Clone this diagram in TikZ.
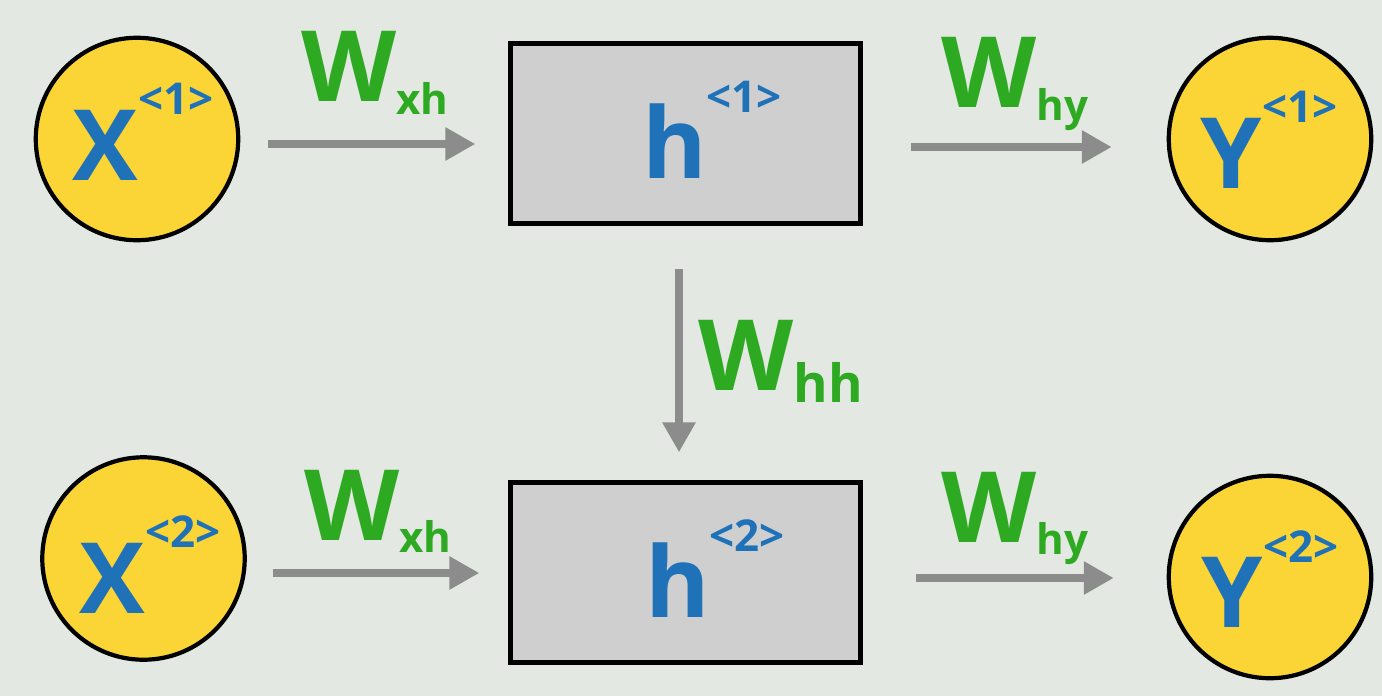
\documentclass[tikz,border=0pt]{standalone}
\usepackage{fontspec}
\setmainfont{Open Sans}
\usepackage{tikz}
\usetikzlibrary{arrows.meta, positioning, calc}

\definecolor{bgcol}{HTML}{E3E8E2}
\definecolor{unityellow}{HTML}{FBD536}
\definecolor{symblue}{HTML}{1F72B8}
\definecolor{wgreen}{HTML}{2EAA22}
\definecolor{arrowgray}{HTML}{8C8C8C}
\definecolor{boxgray}{HTML}{CFCFCF}

\newcommand{\symb}[2]{#1\raisebox{37pt}{\fontsize{25}{25}\selectfont<#2>}}
\newcommand{\wlab}[2][24]{W\raisebox{-7pt}{\fontsize{#1}{#1}\selectfont #2}}

\tikzset{
  unit/.style={circle, draw=black, line width=2.4pt, fill=unityellow, minimum size=4.05cm, inner sep=0pt},
  hidden/.style={rectangle, draw=black, line width=2.6pt, fill=boxgray, minimum width=7cm, minimum height=3.6cm, inner sep=0pt},
  symtext/.style={anchor=base, text=symblue, inner sep=0pt, font=\fontsize{56}{56}\selectfont\bfseries},
  wtext/.style={anchor=base, text=wgreen, inner sep=0pt, font=\fontsize{56}{56}\selectfont\bfseries},
  conn/.style={draw=arrowgray, line width=4pt, -{Triangle[length=17pt, width=18pt]}}
}

\begin{document}
\begin{tikzpicture}[x=0.02cm, y=-0.02cm]
    % Background
    \fill[bgcol] (0,0) rectangle (1382,696);

    % Time step 1
    \node[unit] (x1) at (137,139) {};
    \node[hidden] (h1) at (685.5,133.5) {};
    \node[unit] (y1) at (1270,139) {};
    \node[symtext] (x1sym) at (143,180) {\symb{X}{1}};
    \node[symtext] (h1sym) at (712,178) {\symb{h}{1}};
    \node[symtext] (y1sym) at (1269,188) {\symb{Y}{1}};

    % Time step 2
    \node[unit] (x2) at (143.5,558.5) {};
    \node[hidden] (h2) at (685.5,572.5) {};
    \node[unit] (y2) at (1270,577) {};
    \node[symtext] (x2sym) at (150,613) {\symb{X}{2}};
    \node[symtext] (h2sym) at (715,617) {\symb{h}{2}};
    \node[symtext] (y2sym) at (1270,627) {\symb{Y}{2}};

    % Weights
    \node[wtext] (wxh1) at (375,102) {\wlab{xh}};
    \node[wtext] (why1) at (1015,108) {\wlab{hy}};
    \node[wtext] (whh) at (781,390) {\wlab[30]{hh}};
    \node[wtext] (wxh2) at (378,540) {\wlab{xh}};
    \node[wtext] (why2) at (1015,542) {\wlab{hy}};

    % Connections
    \draw[conn, shorten <=0.56cm, shorten >=0.66cm] ($(x1.east)+(0,5)$) -- ($(x1.east -| h1.west)+(0,5)$);
    \draw[conn, shorten <=0.96cm, shorten >=1.1cm] ($(h1.east)+(0,13.5)$) -- ($(h1.east -| y1.west)+(0,13.5)$);
    \draw[conn, shorten <=0.86cm, shorten >=0.56cm] ($(h1.south)+(-6.5,0)$) -- ($(h2.north)+(-6.5,0)$);
    \draw[conn, shorten <=0.52cm, shorten >=0.58cm] ($(x2.east)+(0,14.5)$) -- ($(x2.east -| h2.west)+(0,14.5)$);
    \draw[conn, shorten <=1.06cm, shorten >=1.06cm] ($(h2.east)+(0,5.5)$) -- ($(h2.east -| y2.west)+(0,5.5)$);
\end{tikzpicture}
\end{document}
